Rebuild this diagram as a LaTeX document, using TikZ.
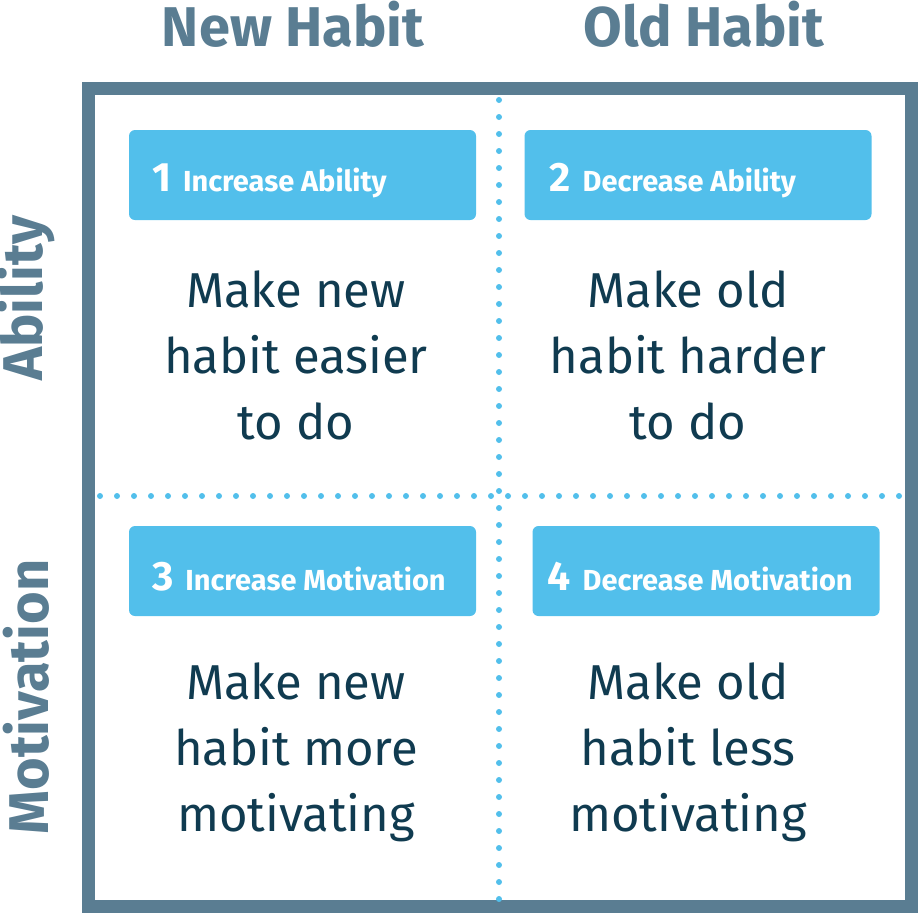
\documentclass[tikz,border=0pt]{standalone}
\usepackage{fontspec}
\setmainfont{Fira Sans}
\definecolor{slate}{HTML}{5A7D92}
\definecolor{sky}{HTML}{52BFEB}
\definecolor{ink}{HTML}{103B50}
\newcommand{\tagnum}[1]{{\fontsize{41}{44}\selectfont #1}\hspace{12pt}}
\begin{document}
\begin{tikzpicture}[x=1pt,y=-1pt,
  tag/.style={fill=sky,rounded corners=6pt,minimum width=347pt,minimum height=90pt,inner sep=0pt},
  tagtext/.style={text=white,anchor=west,inner sep=0pt,font=\bfseries\fontsize{29}{32}\selectfont},
  body/.style={text=ink,align=center,font=\fontsize{49}{66}\selectfont},
  head/.style={text=slate,font=\bfseries\fontsize{56}{60}\selectfont},
  dots/.style={sky,line width=6pt,line cap=round,dash pattern=on 0pt off 17pt}]
\useasboundingbox (0,0) rectangle (918,914);
% frame
\draw[slate,line width=13pt] (88.5,88.5) rectangle (911,906.5);
% dividers
\coordinate (vt) at (499,100);
\coordinate (vb) at (499,900);
\coordinate (hl) at (100,496);
\coordinate (hr) at (905,496);
\draw[dots] (vt) -- (vb);
\draw[dots] (hl) -- (hr);
% headers
\node[head] (h1) at (293,24) {New Habit};
\node[head] (h2) at (704,24) {Old Habit};
\node[head,rotate=90] (s1) at (26,298) {Ability};
\node[head,rotate=90] (s2) at (26,697) {Motivation};
% tags
\node[tag] (t1) at (302.5,175) {};
\node[tag] (t2) at (698,175) {};
\node[tag] (t3) at (302.5,571) {};
\node[tag] (t4) at (706,571) {};
\node[tagtext] (l1) at ([xshift=23pt,yshift=-6pt]t1.west) {\tagnum{1}Increase Ability};
\node[tagtext] (l2) at ([xshift=25pt,yshift=-6pt]t2.west) {\tagnum{2}Decrease Ability};
\node[tagtext] (l3) at ([xshift=23pt,yshift=-6pt]t3.west) {\tagnum{3}Increase Motivation};
\node[tagtext] (l4) at ([xshift=15pt,yshift=-6pt]t4.west) {\tagnum{4}Decrease Motivation};
% bodies
\node[body] (b1) at (296,355) {Make new\\habit easier\\to do};
\node[body] (b2) at (688,355) {Make old\\habit harder\\to do};
\node[body] (b3) at (296,752) {Make new\\habit more\\motivating};
\node[body] (b4) at (688,752) {Make old\\habit less\\motivating};
\end{tikzpicture}
\end{document}
